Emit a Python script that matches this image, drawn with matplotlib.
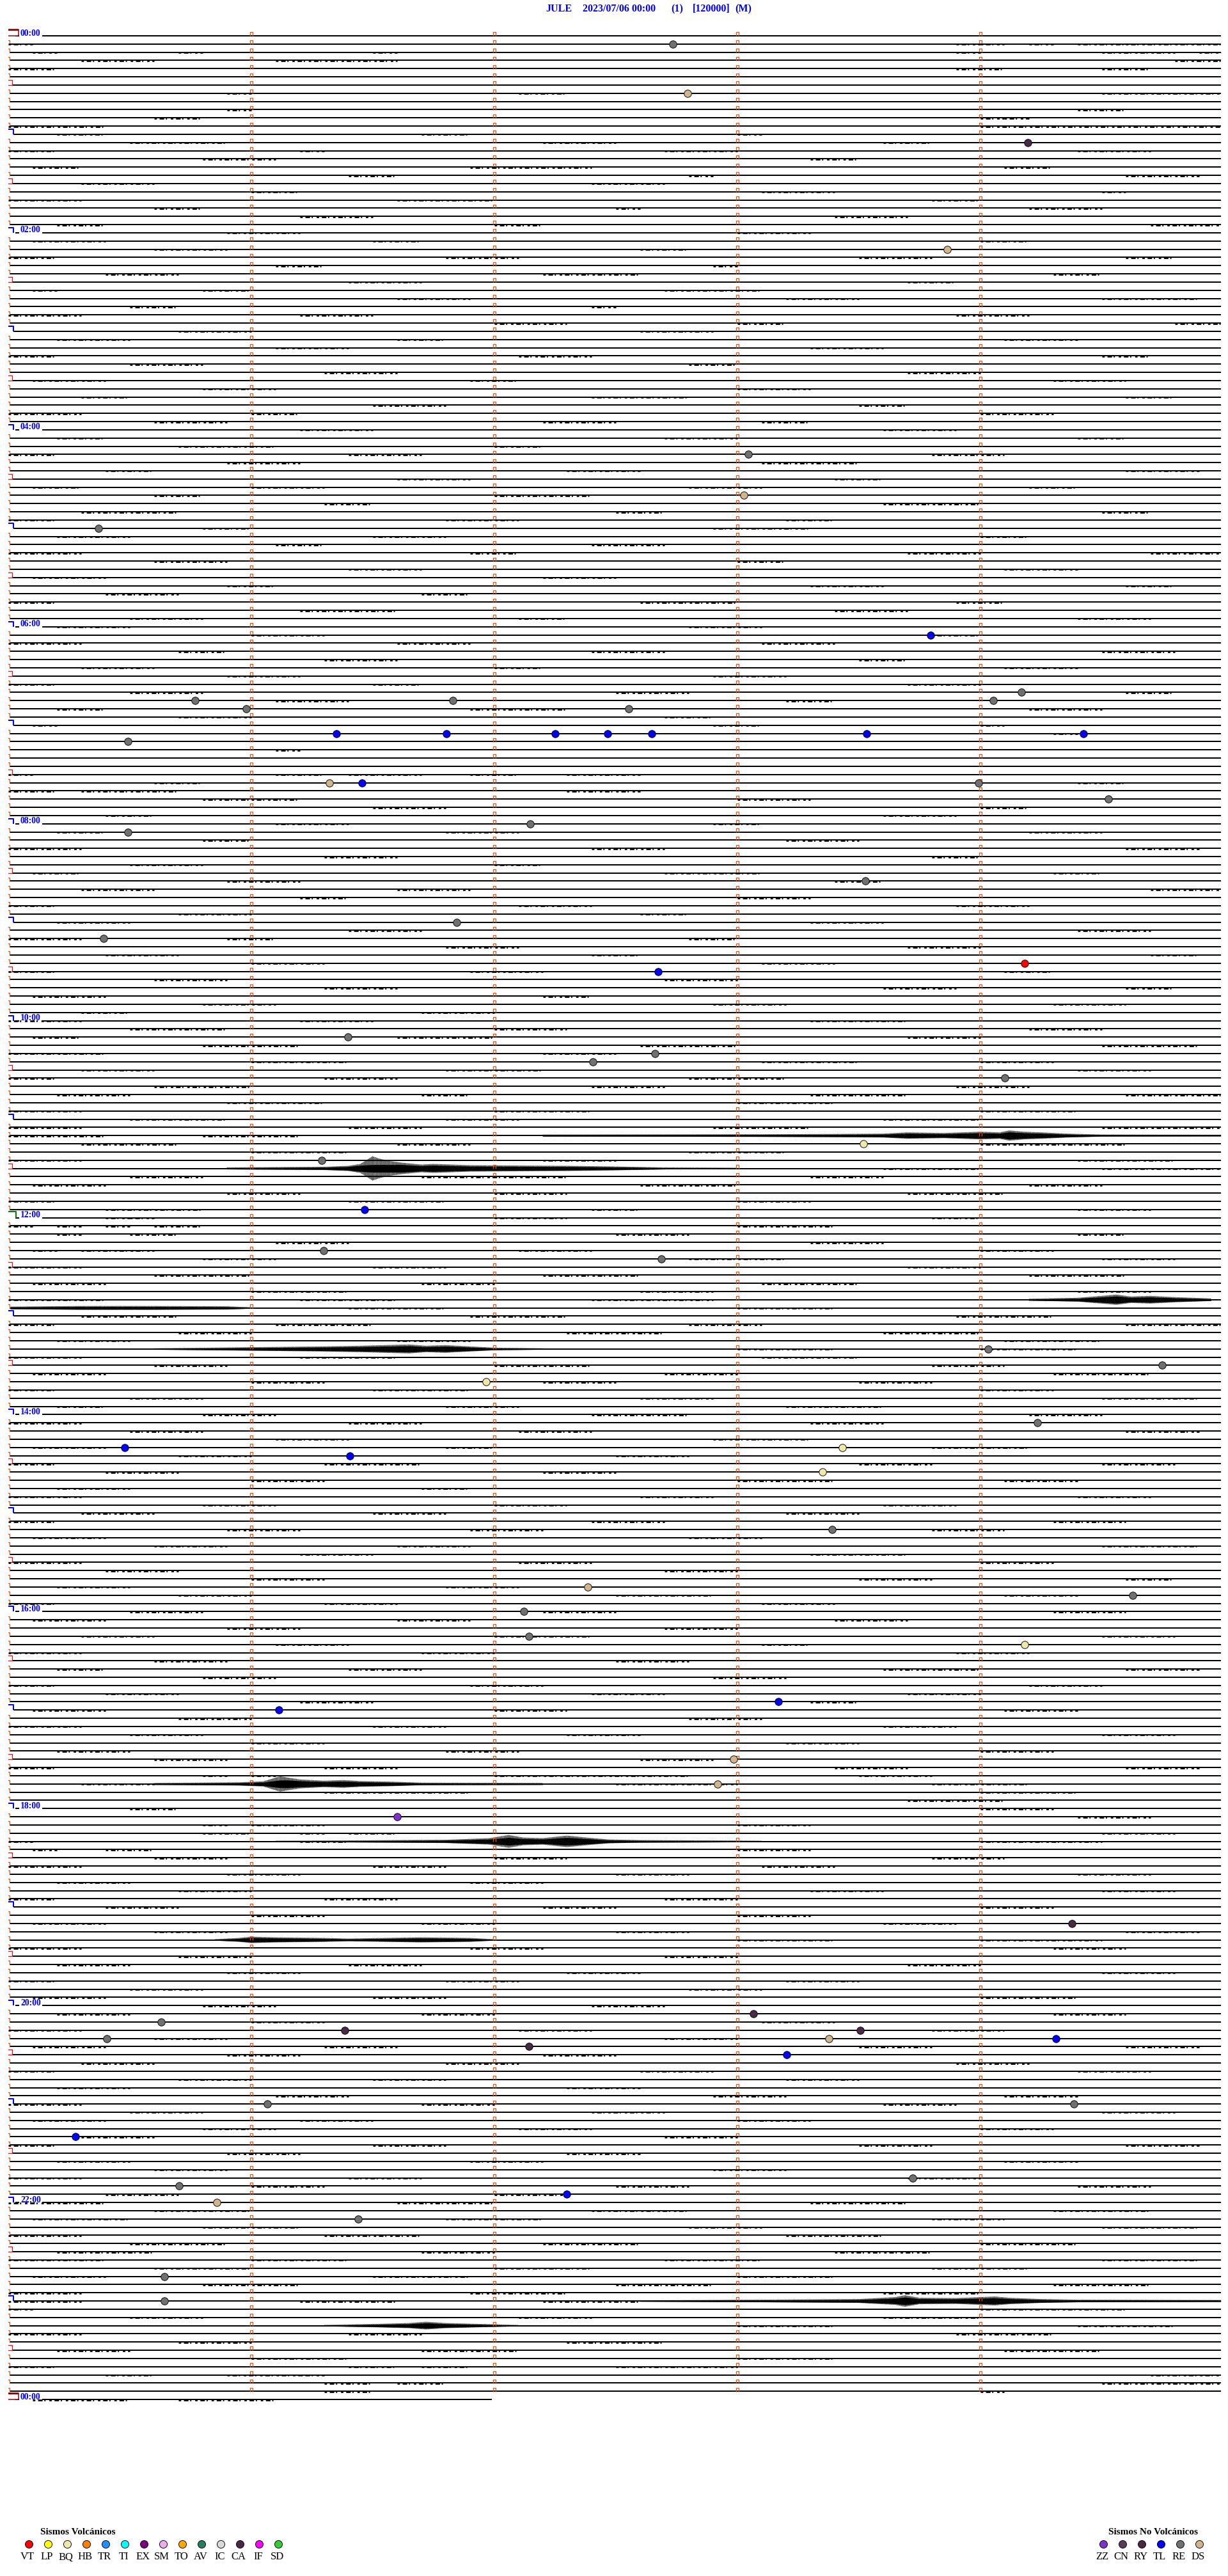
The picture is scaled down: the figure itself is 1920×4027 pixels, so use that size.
import matplotlib
matplotlib.use('Agg')
import matplotlib.pyplot as plt
from matplotlib.path import Path

# ---- data -------------------------------------------------------------
TITLE_PARTS = ["JULE", "2023/07/06 00:00", "(1)", "[120000]", "(M)"]

N_LINES = 289          # 288 five-minute lines + start of next day
LAST_LINE_END = 1.99   # minutes drawn on the last (00:00) line

# event circles: line index, minute within line, type
EV_LINE = [1, 7, 13, 26, 51, 56, 60, 73, 80, 81, 81, 81, 82, 82,
           85, 85, 85, 85, 85, 85, 85, 86, 91, 91, 91, 93, 97, 96,
           103, 108, 110, 113, 114, 122, 124, 125, 127, 135, 137, 143,
           148, 149, 160, 162, 164, 169, 172, 172, 173, 175, 182, 189,
           190, 192, 195, 196, 203, 204, 210, 213, 217, 230, 241, 242,
           243, 243, 244, 244, 244, 245, 246, 252, 252, 256, 261, 262,
           264, 263, 266, 273, 276]
EV_MIN = [2.736, 2.796, 4.196, 3.865, 3.046, 3.028, 0.372, 3.796, 4.170,
          4.054, 0.770, 1.830, 2.554, 0.980,
          1.352, 1.804, 2.251, 2.467, 2.649, 3.533, 4.425, 0.493, 1.322,
          1.457, 3.993, 4.527, 0.493, 2.149,
          3.528, 1.846, 0.393, 4.183, 2.675, 1.399, 2.662, 2.407, 4.101,
          3.520, 1.291, 1.467,
          1.299, 2.688, 4.033, 4.749, 1.967, 4.236, 0.480, 3.433, 1.407,
          3.351, 3.391, 2.386,
          4.628, 2.122, 2.143, 4.183, 3.170, 1.114, 2.986, 2.920, 1.601,
          4.378, 3.067, 0.630,
          1.386, 3.507, 0.407, 3.378, 4.312, 2.143, 3.204, 4.385, 1.067,
          0.278, 3.722, 0.704,
          0.859, 2.299, 1.441, 0.643, 0.643]
EV_TYPE = ["RE", "DS", "CA", "DS", "RE", "DS", "RE", "TL", "RE", "RE", "RE", "RE", "RE", "RE",
           "TL", "TL", "TL", "TL", "TL", "TL", "TL", "RE", "DS", "TL", "RE", "RE", "RE", "RE",
           "RE", "RE", "RE", "VT", "TL", "RE", "RE", "RE", "RE", "BQ", "RE", "TL",
           "RE", "RE", "RE", "RE", "BQ", "RE", "TL", "BQ", "TL", "BQ", "RE", "DS",
           "RE", "RE", "RE", "BQ", "TL", "TL", "DS", "DS", "ZZ", "CA", "CA", "RE",
           "CA", "CA", "RE", "DS", "TL", "CA", "TL", "RE", "RE", "TL", "RE", "RE",
           "DS", "TL", "RE", "RE", "RE"]

VOLC_TYPES = ["VT", "LP", "BQ", "HB", "TR", "TI", "EX", "SM", "TO", "AV", "IC", "CA", "IF", "SD"]
VOLC_COLORS = ["#ff0000", "#ffff00", "#eee8aa", "#ff8000", "#1e90ff", "#00ffff", "#800080",
               "#eeaaee", "#ffa500", "#208060", "#d8d8d8", "#4a2848", "#ff00ff", "#33cc33"]
NOVOLC_TYPES = ["ZZ", "CN", "RY", "TL", "RE", "DS"]
NOVOLC_COLORS = ["#8030d0", "#5a3a5a", "#4a2848", "#0000ff", "#707070", "#d2b48c"]

# larger signals: line, envelope minutes, envelope half-amplitude (px)
SIG_LINE = [134, 138, 154, 155, 160, 213, 220, 232, 276, 279]
SIG_T = [
    [2.2, 3.1, 3.4, 3.6, 3.7, 3.85, 4.0, 4.08, 4.12, 4.18, 4.25, 4.36, 4.5, 4.99],
    [0.9, 1.3, 1.4, 1.45, 1.5, 1.53, 1.58, 1.62, 1.7, 1.75, 1.9, 2.1, 2.3, 2.5, 2.7, 3.0],
    [4.2, 4.4, 4.5, 4.56, 4.62, 4.7, 4.8, 4.95],
    [0.01, 0.3, 0.6, 0.9, 1.0],
    [0.6, 0.95, 1.3, 1.45, 1.55, 1.65, 1.72, 1.8, 1.9, 2.0, 2.2],
    [0.6, 0.95, 1.05, 1.12, 1.15, 1.2, 1.3, 1.38, 1.45, 1.58, 1.7, 2.2],
    [1.1, 1.4, 1.8, 1.98, 2.06, 2.12, 2.2, 2.3, 2.38, 2.47, 2.6, 2.9, 3.1],
    [0.85, 0.95, 1.0, 1.1, 1.3, 1.4, 1.55, 1.7, 1.9, 2.0],
    [2.6, 3.1, 3.5, 3.65, 3.69, 3.75, 3.9, 4.0, 4.06, 4.12, 4.25, 4.4, 4.99],
    [1.3, 1.5, 1.65, 1.72, 1.8, 1.95, 2.1],
]
SIG_A = [
    [1.5, 2, 2.5, 3, 5, 4, 6, 5, 8, 6, 5, 3, 1.5, 1.2],
    [1.5, 2.5, 4, 7, 19, 15, 11, 9, 6, 7, 5, 4.5, 4, 3, 1.5, 1],
    [1.5, 3, 6, 8, 5, 6, 4, 2],
    [2, 3, 3, 2.5, 1],
    [1, 2.5, 4, 5, 6, 7, 5, 6, 4, 2, 1],
    [1.5, 2.5, 4, 12, 10, 7, 5, 6, 4.5, 3.5, 2, 1.5],
    [1, 1.5, 2.5, 5, 10, 6, 5, 9, 6, 3, 2, 1.5, 1],
    [1, 3, 5, 4, 3, 2, 3, 4, 3, 1],
    [1, 2, 3, 6, 9, 5, 4.5, 6, 7, 5, 3, 2, 1.5],
    [1, 2.5, 4, 6, 4, 2.5, 1],
]

# small noise bursts on each trace, "a-b" in tenths of a minute
BURST_TEXT = [
    # 00h
    "", "0-1 39-40 40-41 42-43 44-46 46-50", "1-2 7-8 15-16 39-40 45-48 49-50",
    "3-6 11-16 48-50", "0-2 39-41 45-47", "", "", "9-10 21-23 45-50", "", "9-10 44-46",
    "6-8 40-41 41-42", "0-4 40-50",
    # 01h
    "2-4 17-19 30-31", "5-9 22-25 36-38", "0-2 12-13 27-30 44-47", "8-11 33-35",
    "1-3 19-24 41-43", "14-16 28-29 46-49", "3-6 24-27", "10-12 31-34 45-46",
    "0-3 16-20 38-40", "6-8 25-26 42-45", "12-15 34-37", "2-4 20-22 47-50",
    # 02h
    "9-12 30-33", "1-4 15-17 40-42", "6-9 26-28", "0-2 18-21 35-38 46-48", "11-13 29-30",
    "4-7 22-26 43-45", "14-17 37-39", "1-2 8-10 27-31", "16-19 32-35 45-49", "5-7 24-25",
    "0-3 12-15 39-42", "20-23 30-32 48-50",
    # 03h
    "7-10 26-29", "2-5 16-18 41-44", "11-14 33-36", "0-2 21-24 45-47", "5-8 28-30",
    "13-16 37-40", "1-4 19-21 43-46", "8-11 30-33", "3-5 24-28 46-48", "15-18 35-37",
    "0-3 10-12 40-43", "6-9 22-25 31-33",
    # 04h
    "12-15 36-39", "2-4 27-30 44-46", "7-11 20-22", "0-2 14-17 38-41", "9-12 31-35",
    "4-6 23-26 46-49", "16-19 34-36", "1-3 10-13 28-31 42-44", "6-8 20-24", "13-15 36-40",
    "3-7 25-27 45-47", "0-2 18-21 32-34",
    # 05h
    "8-10 29-33", "2-5 15-18 40-42", "11-13 24-27", "0-3 19-21 37-40 47-50", "6-9 30-32",
    "14-17 41-44", "1-4 22-25", "9-11 33-36 46-48", "4-7 17-19", "0-2 26-30 39-41",
    "12-16 34-37", "5-8 21-23 44-47",
    # 06h
    "2-5 28-31", "10-13 38-40", "0-3 16-19 31-34", "7-9 24-27 45-48", "13-16 35-37",
    "3-6 20-22 41-44", "9-12 29-32", "0-2 15-17 37-40", "5-8 25-28 46-48", "11-14 32-34",
    "2-4 19-23 42-45", "7-10 27-29",
    # 07h
    "1-2 29-31 40-41", "43-44", "", "11-12", "", "", "0-1 11-13 14-17 19-21 23-26",
    "6-8 44-46", "0-2 3-7 23-26", "8-10 10-12 30-33", "15-18 40-42", "4-6 36-39",
    # 08h
    "11-14 29-31", "2-4 18-21 42-45", "8-10 32-35", "0-3 24-27 46-49", "13-16 38-40",
    "5-8 20-22", "1-3 27-31 43-45", "9-12 34-36", "3-6 16-19 47-50", "12-14 30-33",
    "0-2 21-24 39-42", "7-10 26-28",
    # 09h
    "2-5 33-36", "14-17 44-47", "0-3 9-11 28-30", "18-21 37-40", "4-7 24-26 47-49",
    "10-13 31-34", "0-2 19-22 41-43", "6-9 27-30", "13-16 36-39 46-48", "1-4 22-24",
    "8-11 29-32 43-46", "3-5 17-20",
    # 10h
    "0-3 12-15 33-37", "5-9 20-23 42-45", "1-3 16-20 37-40", "8-12 26-30 45-49",
    "0-4 22-25", "10-14 31-35 40-43", "3-6 18-22 44-47", "0-2 13-16 28-32",
    "6-10 24-27 39-42", "2-5 17-19 33-37 46-50", "9-13 30-34", "0-3 20-24 40-44",
    # 11h
    "5-9 18-21 36-40", "0-3 14-17 29-33 45-50", "0-4 8-12", "3-7 16-19 40-46",
    "10-14 28-32", "0-3 22-25 44-48", "36-40 45-50", "5-8 17-23 33-36", "1-4 26-30 42-45",
    "9-12 20-23 37-41", "0-2 14-18 30-33", "4-8 24-26 44-47",
    # 12h
    "4-5 5-6 20-23 38-40", "0-1 2-3 4-5 6-8 30-34", "2-3 5-7 25-28 44-46", "11-14 33-36",
    "1-2 3-6 21-24 40-43", "8-11 28-32 45-48", "0-3 15-18 37-40", "6-10 22-26 42-46",
    "1-4 17-20 31-35", "10-14 26-29 44-47", "0-4 12-16 24-29", "14-18 30-34",
    # 13h
    "3-7 19-23 39-43", "0-2 11-15 28-31 46-50", "7-10 23-27 36-40", "2-5 16-19 41-45",
    "30-34 40-44", "0-3 12-16 31-35", "6-9 20-24 38-41", "1-4 27-30 43-47",
    "10-13 22-25 35-38", "0-2 15-19 40-43", "5-8 26-29 45-49", "2-4 18-21 32-36",
    # 14h
    "8-11 24-28 42-45", "0-3 14-17 33-36", "5-8 21-24 46-49", "11-14 29-33",
    "1-4 18-20 38-42", "7-10 25-28", "0-2 13-17 35-38 45-48", "4-7 22-25",
    "10-13 30-34 41-44", "2-5 17-19", "0-3 26-29 44-47", "8-11 20-23 36-39",
    # 15h
    "3-6 15-18 32-35", "0-2 24-27 43-46", "9-12 19-22 38-41", "1-4 28-31",
    "6-9 16-19 45-49", "12-15 33-37", "0-3 21-24 40-43", "4-7 27-30", "10-13 35-38 46-48",
    "2-5 18-21", "7-10 25-29 41-44", "0-2 13-16 31-34",
    # 16h
    "5-8 22-25 43-46", "1-4 16-19 34-37", "9-12 27-30", "3-6 20-24 45-48", "11-14 31-33",
    "0-3 17-20 39-42", "6-9 25-28", "2-4 14-17 36-40 46-49", "8-11 29-32",
    "0-2 19-22 42-45", "4-7 24-27 37-40", "12-15 33-35",
    # 17h
    "1-4 20-23 41-44", "7-10 28-31", "0-3 15-18 36-39", "5-8 23-26 45-48", "10-13 32-35",
    "2-5 18-21 40-43", "6-9 26-29", "0-2 13-16 34-37 46-49", "8-9 10-11 20-28 35-38",
    "3-6 25-30 38-42", "13-15 15-19 40-44", "37-41",
    # 18h
    "5-7 40-43", "44-47", "8-9 10-13 30-33", "8-10 12-13 14-16 45-48", "0-1 12-14 40-45",
    "1-2 4-6 30-33", "6-9 20-23 38-41", "0-3 15-18 31-34", "9-12 25-28 44-47", "2-5 19-22",
    "7-10 33-36 45-48", "0-2 13-16 27-30",
    # 19h
    "4-7 22-25 40-43", "10-13 30-33", "1-4 17-20 36-39", "6-9 25-28 46-49", "30-34 40-45",
    "0-3 19-22 43-46", "7-10 27-30", "2-5 14-17 37-40", "9-12 23-26 45-48",
    "0-2 18-21 32-35", "5-8 28-31", "1-4 15-18 40-44",
    # 20h
    "8-11 24-27", "2-5 17-20 43-46", "10-13 31-34", "0-3 21-24 38-41", "6-9 27-30",
    "1-4 13-16 35-38 46-49", "9-12 22-25", "3-6 18-21 39-42", "0-2 26-29 44-47",
    "7-10 15-18 32-35", "2-5 23-26", "11-14 29-32 41-44",
    # 21h
    "0-3 17-20 36-39", "5-8 24-27 45-48", "1-4 12-15 30-33", "8-11 21-24 40-43",
    "3-6 27-30", "0-2 15-18 35-38 46-49", "9-12 23-26", "2-5 19-22 41-44", "6-9 29-32",
    "0-3 14-17 37-40", "10-13 25-28 44-47", "4-7 20-23",
    # 22h
    "0-4 16-20 33-37", "6-10 24-28 43-47", "1-5 18-22 38-41", "8-12 28-31 45-49",
    "0-3 13-17 32-36", "5-9 22-26 40-44", "2-6 17-20 34-38", "0-4 10-14 27-31 45-49",
    "6-10 20-24 38-42", "1-4 15-19 30-34", "8-12 25-29 43-47", "0-3 19-23 36-40",
    # 23h
    "0-3 12-16 22-26", "0-1 40-46", "5-8 21-24 36-40", "30-34 44-48", "0-3 14-17 39-43",
    "7-10 23-27", "2-5 17-21 41-45", "10-14 30-34", "0-2 14-16 17-19 25-30",
    "4-6 9-12 12-13 47-50", "13-15 16-18 45-50", "13-15 40-41",
    # next day 00h
    "1-3 3-5 7-11",
]

# ---- figure -----------------------------------------------------------
W, H, DPI = 1920, 4027, 100
X0, X1 = 12.5, 1912.5          # pixel span of one 5-minute line
Y0, DY = 56.0, 12.83           # pixel position of line 0, spacing

fig = plt.figure(figsize=(W / DPI, H / DPI), dpi=DPI)
top_px = Y0 - DY
bot_px = Y0 + N_LINES * DY
ax = fig.add_axes([X0 / W, 1 - bot_px / H, (X1 - X0) / W, (bot_px - top_px) / H])
ax.set_xlim(0, 5)
ax.set_ylim(N_LINES, -1)
ax.axis('off')

PXM = (X1 - X0) / 5.0   # px per minute
PT = 72.0 / DPI
LW = 2.0 * PT
plt.rcParams['hatch.linewidth'] = 1.2 * PT
plt.rcParams['hatch.color'] = 'black'


def px2min(px):
    return (px - X0) / PXM


def ypx(p):
    return p / DY


tick_marker = Path([(-1, -1.2), (-1, 1.2), (1, 1.2), (1, -1.2)],
                   [Path.MOVETO, Path.LINETO, Path.LINETO, Path.LINETO])
hour_marker = Path([(-1, -0.75), (-1, 0.75), (1, 0.75), (1, -0.75)],
                   [Path.MOVETO, Path.LINETO, Path.LINETO, Path.LINETO])
noon_marker = Path([(-1, -0.6), (-1, 0.6), (1, 0.6), (1, -0.6)],
                   [Path.MOVETO, Path.LINETO, Path.LINETO, Path.LINETO])
day_marker = Path([(-1, -0.5), (-1, 0.5), (1, 0.5), (1, -0.5), (-1, -0.5)],
                  [Path.MOVETO, Path.LINETO, Path.LINETO, Path.LINETO, Path.CLOSEPOLY])

for i in range(N_LINES):
    end = 4.99 if i < N_LINES - 1 else LAST_LINE_END
    if i % 24 == 0:
        start = px2min(66)
        ax.hlines(i, px2min(24), px2min(30), color='black', lw=LW)
        ax.text(px2min(32), i - ypx(0.5), "%02d:00" % ((i // 12) % 24),
                color='#0000ff', fontsize=9.8, fontweight='bold',
                family='Liberation Serif', va='baseline', ha='left')
    elif i % 12 == 0:
        start = px2min(21)
    elif i % 12 == 6:
        start = px2min(19)
    else:
        start = px2min(15)
    ax.hlines(i, start, end, color='black', lw=LW)

    # left box / marker
    if i % 288 == 0:
        ax.plot(px2min(19), i - ypx(5), marker=day_marker, ms=20 * PT,
                mfc='white', mec='#8b0000', mew=1.5 * PT)
        ax.hlines(i - ypx(9.5), px2min(9.5), px2min(28.5), color='#8b0000', lw=2.2 * PT)
    elif i == 144:
        ax.plot(px2min(17), i - ypx(5), marker=noon_marker, ms=16 * PT,
                mfc='none', mec='#008000', mew=2 * PT)
    elif i % 12 == 0:
        ax.plot(px2min(15), i - ypx(4), marker=hour_marker, ms=11 * PT,
                mfc='none', mec='#0000ff', mew=2 * PT)
    elif i % 12 == 6:
        ax.plot(px2min(14.5), i - ypx(4), marker='s', ms=8 * PT,
                mfc='none', mec='#ff0000', mew=1.2 * PT)
    else:
        ax.plot(0, i - ypx(2.6), marker=tick_marker, ms=5.5 * PT,
                mfc='none', mec='#ff4500', mew=1.2 * PT)
    if i < N_LINES - 1:
        ax.plot([1, 2, 3, 4], [i - ypx(2.6)] * 4, ls='none', marker=tick_marker,
                ms=5.5 * PT, mfc='none', mec='#ff4500', mew=1.2 * PT)

# noise bursts (short dashes hugging the trace)
for ln, txt in enumerate(BURST_TEXT):
    for seg in txt.split():
        a, b = [int(v) / 10.0 for v in seg.split('-')]
        ax.hlines(ln + ypx(0.5), a, min(b, 4.99), color='black', lw=2.7 * PT,
                  linestyles=(0, (1.4, 1.6, 2.6, 1.0, 0.7, 2.2)))

# larger signals: hatched envelope + solid core
for ln, ts, amps in zip(SIG_LINE, SIG_T, SIG_A):
    lo = [ln - ypx(a) for a in amps]
    hi = [ln + ypx(a) for a in amps]
    ax.fill_between(ts, lo, hi, facecolor='none', edgecolor='black',
                    hatch='||||||||', lw=0)
    lo2 = [ln - ypx(min(a * 0.7, 6)) for a in amps]
    hi2 = [ln + ypx(min(a * 0.7, 6)) for a in amps]
    ax.fill_between(ts, lo2, hi2, color='black', lw=0)

# event circles
cmap = dict(zip(VOLC_TYPES + NOVOLC_TYPES, VOLC_COLORS + NOVOLC_COLORS))
for ln, t, ty in zip(EV_LINE, EV_MIN, EV_TYPE):
    ax.plot(t, ln, 'o', ms=11.5 * PT, mfc=cmap[ty], mec='black', mew=0.9 * PT, zorder=5)

# title
title_x = [853, 911, 1049, 1083, 1149]
for tx, s in zip(title_x, TITLE_PARTS):
    fig.text(tx / W, 1 - 18 / H, s, color='#0000ff', fontsize=11.5, fontweight='bold',
             family='Liberation Serif', ha='left', va='baseline')

# legends
lax = fig.add_axes([0, 0, 1, 1])
lax.set_xlim(0, W)
lax.set_ylim(H, 0)
lax.axis('off')
lax.text(63, 3962, "Sismos Volcánicos", fontsize=11, fontweight='bold',
         family='Liberation Serif', ha='left', va='baseline')
for k, (ty, c) in enumerate(zip(VOLC_TYPES, VOLC_COLORS)):
    cx = 45.3 + 30 * k
    lax.plot(cx, 3977, 'o', ms=12 * PT, mfc=c, mec='black', mew=0.9 * PT)
    lax.text(cx - 2, 4001, ty, fontsize=12, family='Liberation Serif',
             ha='center', va='baseline')
lax.text(1733, 3962, "Sismos No Volcánicos", fontsize=11, fontweight='bold',
         family='Liberation Serif', ha='left', va='baseline')
for k, (ty, c) in enumerate(zip(NOVOLC_TYPES, NOVOLC_COLORS)):
    cx = 1725.3 + 30 * k
    lax.plot(cx, 3977, 'o', ms=12 * PT, mfc=c, mec='black', mew=0.9 * PT)
    lax.text(cx - 2, 4001, ty, fontsize=12, family='Liberation Serif',
             ha='center', va='baseline')

fig.savefig('out.png', dpi=DPI)
